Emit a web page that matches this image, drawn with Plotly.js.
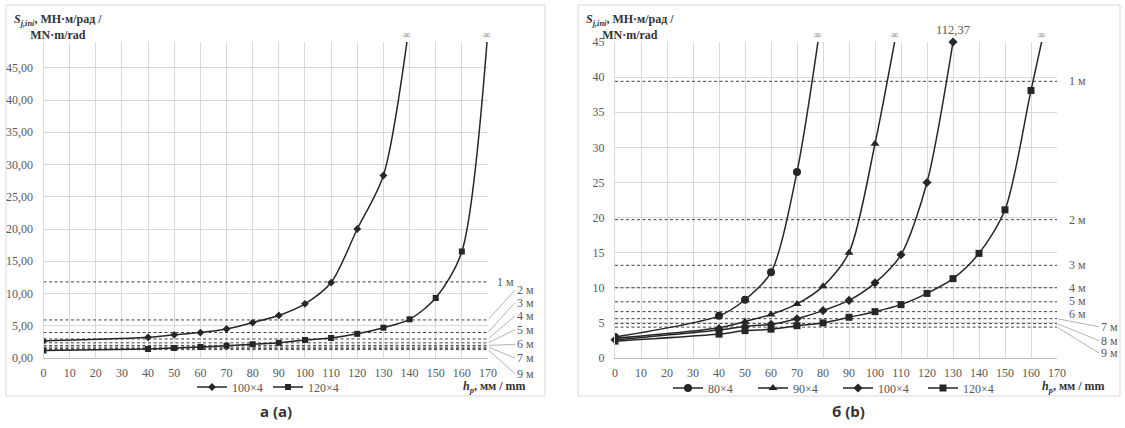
<!DOCTYPE html>
<html>
<head>
<meta charset="utf-8">
<script src="https://cdn.plot.ly/plotly-3.0.1.min.js"></script>
<style>html,body{margin:0;padding:0;background:#fff;}#chart{width:1125px;height:428px;}</style>
</head>
<body>
<div id="chart"></div>
<script>
// ---------- data ----------
// chart a
const xA100 = [0, 40, 50, 60, 70, 80, 90, 100, 110, 120, 130, 140];
const yA100 = [2.65, 3.2, 3.6, 3.95, 4.5, 5.5, 6.6, 8.4, 11.7, 20.0, 28.3, 52]; // last = asymptote (∞), off-scale
const xA120 = [0, 40, 50, 60, 70, 80, 90, 100, 110, 120, 130, 140, 150, 160, 170];
const yA120 = [1.15, 1.4, 1.55, 1.7, 1.9, 2.15, 2.35, 2.8, 3.1, 3.75, 4.7, 6.0, 9.3, 16.5, 51]; // last = ∞
const limA = [11.8, 5.9, 3.95, 2.95, 2.35, 1.95, 1.7, 1.5, 1.3];
const limLabelsA = ['1 м', '2 м', '3 м', '4 м', '5 м', '6 м', '7 м', '', '9 м'];
const infXA = [139, 169.5];

// chart b
const xB80 = [0, 40, 50, 60, 70, 80];
const yB80 = [3.0, 6.0, 8.3, 12.2, 26.5, 50]; // last = ∞
const xB90 = [0, 40, 50, 60, 70, 80, 90, 100, 110];
const yB90 = [2.8, 4.3, 5.2, 6.2, 7.7, 10.2, 15.0, 30.5, 50]; // last = ∞
const xB100 = [0, 40, 50, 60, 70, 80, 90, 100, 110, 120, 130];
const yB100 = [2.6, 4.0, 4.5, 4.8, 5.6, 6.75, 8.2, 10.7, 14.7, 25.0, 45]; // last shown capped (112,37)
const xB120 = [0, 40, 50, 60, 70, 80, 90, 100, 110, 120, 130, 140, 150, 160, 170];
const yB120 = [2.4, 3.4, 3.9, 4.1, 4.6, 5.0, 5.8, 6.6, 7.6, 9.2, 11.3, 14.9, 21.1, 38.1, 55]; // last = ∞
const limB = [39.4, 19.7, 13.2, 10.0, 8.0, 6.6, 5.6, 4.9, 4.4];
const limLabelsB = ['1 м', '2 м', '3 м', '4 м', '5 м', '6 м', '7 м', '8 м', '9 м'];
const infXB = [78, 107.5, 164];
const peakB100 = '112,37';

// ticks
const xTicks = [0, 10, 20, 30, 40, 50, 60, 70, 80, 90, 100, 110, 120, 130, 140, 150, 160, 170];
const xTickText = ['0', '10', '20', '30', '40', '50', '60', '70', '80', '90', '100', '110', '120', '130', '140', '150', '160', '170'];
const yTicksA = [0, 5, 10, 15, 20, 25, 30, 35, 40, 45];
const yTickTextA = ['0,00', '5,00', '10,00', '15,00', '20,00', '25,00', '30,00', '35,00', '40,00', '45,00'];
const yTicksB = [0, 5, 10, 15, 20, 25, 30, 35, 40, 45];
const yTickTextB = ['0', '5', '10', '15', '20', '25', '30', '35', '40', '45'];

// ---------- styling ----------
const W = 1125, H = 428;
const SERIF = 'Liberation Serif, Times New Roman, serif';
const TXT = '#595959';
const LINE = '#262626';
const GRID = '#d9d9d9';
const px = v => v / W;
const py = v => 1 - v / H;

const traces = [];
function series(x, y, name, symbol, size, xa, ya, legend, extra) {
  const t = {
    type: 'scatter', mode: 'lines+markers', x: x, y: y, name: name,
    xaxis: xa, yaxis: ya, legend: legend,
    line: {color: LINE, width: 1.5, shape: 'spline', smoothing: 0.8},
    marker: {symbol: symbol, size: size, color: LINE},
    hoverinfo: 'skip'
  };
  return Object.assign(t, extra || {});
}
function limits(vals, xa, ya) {
  vals.forEach(v => {
    traces.push({
      type: 'scatter', mode: 'lines', x: [0, 170], y: [v, v], xaxis: xa, yaxis: ya,
      showlegend: false, hoverinfo: 'skip',
      line: {color: '#404040', width: 1, dash: '3px,2.5px'}
    });
  });
}
limits(limA, 'x', 'y');
limits(limB, 'x2', 'y2');
traces.push(series(xA100, yA100, '100×4', 'diamond', 6, 'x', 'y', 'legend'));
traces.push(series(xA120, yA120, '120×4', 'square', 6, 'x', 'y', 'legend'));
traces.push(series(xB80, yB80, '80×4', 'circle', 8, 'x2', 'y2', 'legend2'));
traces.push(series(xB90, yB90, '90×4', 'triangle-up', 8, 'x2', 'y2', 'legend2'));
traces.push(series(xB100, yB100, '100×4', 'diamond', 7, 'x2', 'y2', 'legend2', {cliponaxis: false}));
traces.push(series(xB120, yB120, '120×4', 'square', 7, 'x2', 'y2', 'legend2'));

const tickFont = {family: SERIF, size: 12, color: TXT};
function xAxis(domain, anchor) {
  return {
    domain: domain, anchor: anchor, range: [0, 170], tickmode: 'array',
    tickvals: xTicks, ticktext: xTickText, tickfont: tickFont,
    showgrid: true, gridcolor: GRID, gridwidth: 1, zeroline: false,
    showline: true, linecolor: '#bfbfbf', linewidth: 1, ticks: '', ticklabelstandoff: 4,
    fixedrange: true
  };
}
function yAxis(domain, anchor, range, vals, text) {
  return {
    domain: domain, anchor: anchor, range: range, tickmode: 'array',
    tickvals: vals, ticktext: text, tickfont: tickFont,
    showgrid: true, gridcolor: GRID, gridwidth: 1, zeroline: false,
    showline: true, linecolor: GRID, linewidth: 1, ticks: '', ticklabelstandoff: 7,
    fixedrange: true
  };
}
const yDom = [1 - 358 / H, 1 - 42 / H];

const annotations = [];
const annFont = {family: SERIF, size: 12, color: TXT};
// limit labels chart a
const offA = {1: -30, 2: -30, 3: -23, 4: -13, 5: -1, 6: 11, 8: 24};
limLabelsA.forEach((t, i) => {
  if (!t) return;
  if (i === 0) {
    annotations.push({xref: 'x', yref: 'y', x: 170, y: limA[i], text: t, showarrow: false,
      xanchor: 'left', xshift: 7, font: annFont});
  } else {
    annotations.push({xref: 'x', yref: 'y', x: 170, y: limA[i], text: t, showarrow: true,
      arrowhead: 0, arrowwidth: 0.8, arrowcolor: '#a0a0a0', ax: 27, ay: offA[i],
      xanchor: 'left', standoff: 1, font: annFont});
  }
});
// limit labels chart b
const offB = {6: 8, 7: 17, 8: 26};
const shiftB = {4: 1, 5: -2};
limLabelsB.forEach((t, i) => {
  if (i <= 5) {
    annotations.push({xref: 'x2', yref: 'y2', x: 170, y: limB[i], text: t, showarrow: false,
      xanchor: 'left', xshift: 10, yshift: shiftB[i] || 0, font: annFont});
  } else {
    annotations.push({xref: 'x2', yref: 'y2', x: 170, y: limB[i], text: t, showarrow: true,
      arrowhead: 0, arrowwidth: 0.8, arrowcolor: '#a0a0a0', ax: 42, ay: offB[i],
      xanchor: 'left', standoff: 1, font: annFont});
  }
});
// infinity marks
const infFont = {family: SERIF, size: 10, color: '#808080'};
infXA.forEach(x => annotations.push({xref: 'x', yref: 'y', x: x, y: 49, text: '∞', showarrow: false,
  yanchor: 'bottom', font: infFont}));
infXB.forEach(x => annotations.push({xref: 'x2', yref: 'y2', x: x, y: 45, text: '∞', showarrow: false,
  yanchor: 'bottom', font: infFont}));
annotations.push({xref: 'x2', yref: 'y2', x: 130, y: 45, text: peakB100, showarrow: false,
  yanchor: 'bottom', yshift: 3, font: {family: SERIF, size: 12.5, color: TXT}});
// axis titles
const titleFont = {family: SERIF, size: 12, color: '#333'};
const yTitle = '<b><i>S</i><sub><i>j,ini</i></sub>, МН·м/рад /</b><br><b>MN·m/rad</b>';
annotations.push({xref: 'paper', yref: 'paper', x: px(58), y: py(27), text: yTitle, showarrow: false,
  xanchor: 'center', yanchor: 'middle', align: 'center', font: titleFont});
annotations.push({xref: 'paper', yref: 'paper', x: px(630), y: py(27), text: yTitle, showarrow: false,
  xanchor: 'center', yanchor: 'middle', align: 'center', font: titleFont});
const xTitle = '<b><i>h</i><sub><i>p</i></sub>, мм / mm</b>';
annotations.push({xref: 'paper', yref: 'paper', x: px(528), y: py(387), text: xTitle, showarrow: false,
  xanchor: 'right', yanchor: 'middle', font: titleFont});
annotations.push({xref: 'paper', yref: 'paper', x: px(1107), y: py(387), text: xTitle, showarrow: false,
  xanchor: 'right', yanchor: 'middle', font: titleFont});
// captions
const capFont = {family: 'Open Sans', size: 15, color: '#333'};
annotations.push({xref: 'paper', yref: 'paper', x: px(276), y: py(411), text: '<b>а (a)</b>', showarrow: false,
  xanchor: 'center', yanchor: 'middle', font: capFont});
annotations.push({xref: 'paper', yref: 'paper', x: px(848), y: py(411), text: '<b>б (b)</b>', showarrow: false,
  xanchor: 'center', yanchor: 'middle', font: capFont});

const shapes = [
  {type: 'rect', xref: 'paper', yref: 'paper', x0: px(6), x1: px(545), y0: py(396), y1: py(5),
   line: {color: '#d9d9d9', width: 1}, fillcolor: 'rgba(0,0,0,0)', layer: 'below'},
  {type: 'rect', xref: 'paper', yref: 'paper', x0: px(578), x1: px(1120), y0: py(396), y1: py(5),
   line: {color: '#d9d9d9', width: 1}, fillcolor: 'rgba(0,0,0,0)', layer: 'below'}
];

const legFont = {family: SERIF, size: 12, color: TXT};
const layout = {
  width: W, height: H, margin: {l: 0, r: 0, t: 0, b: 0},
  paper_bgcolor: '#fff', plot_bgcolor: '#fff',
  font: {family: SERIF},
  xaxis: xAxis([43.5 / W, 488 / W], 'y'),
  yaxis: yAxis(yDom, 'x', [0, 49], yTicksA, yTickTextA),
  xaxis2: xAxis([615 / W, 1057 / W], 'y2'),
  yaxis2: yAxis(yDom, 'x2', [0, 45], yTicksB, yTickTextB),
  legend: {orientation: 'h', x: px(268), y: py(387), xanchor: 'center', yanchor: 'middle',
    font: legFont, bgcolor: 'rgba(0,0,0,0)', itemwidth: 30, entrywidth: 31},
  legend2: {orientation: 'h', x: px(838), y: py(388), xanchor: 'center', yanchor: 'middle',
    font: legFont, bgcolor: 'rgba(0,0,0,0)', itemwidth: 30, entrywidth: 40},
  annotations: annotations,
  shapes: shapes,
  showlegend: true
};

Plotly.newPlot('chart', traces, layout, {staticPlot: true, displayModeBar: false});
</script>
</body>
</html>
